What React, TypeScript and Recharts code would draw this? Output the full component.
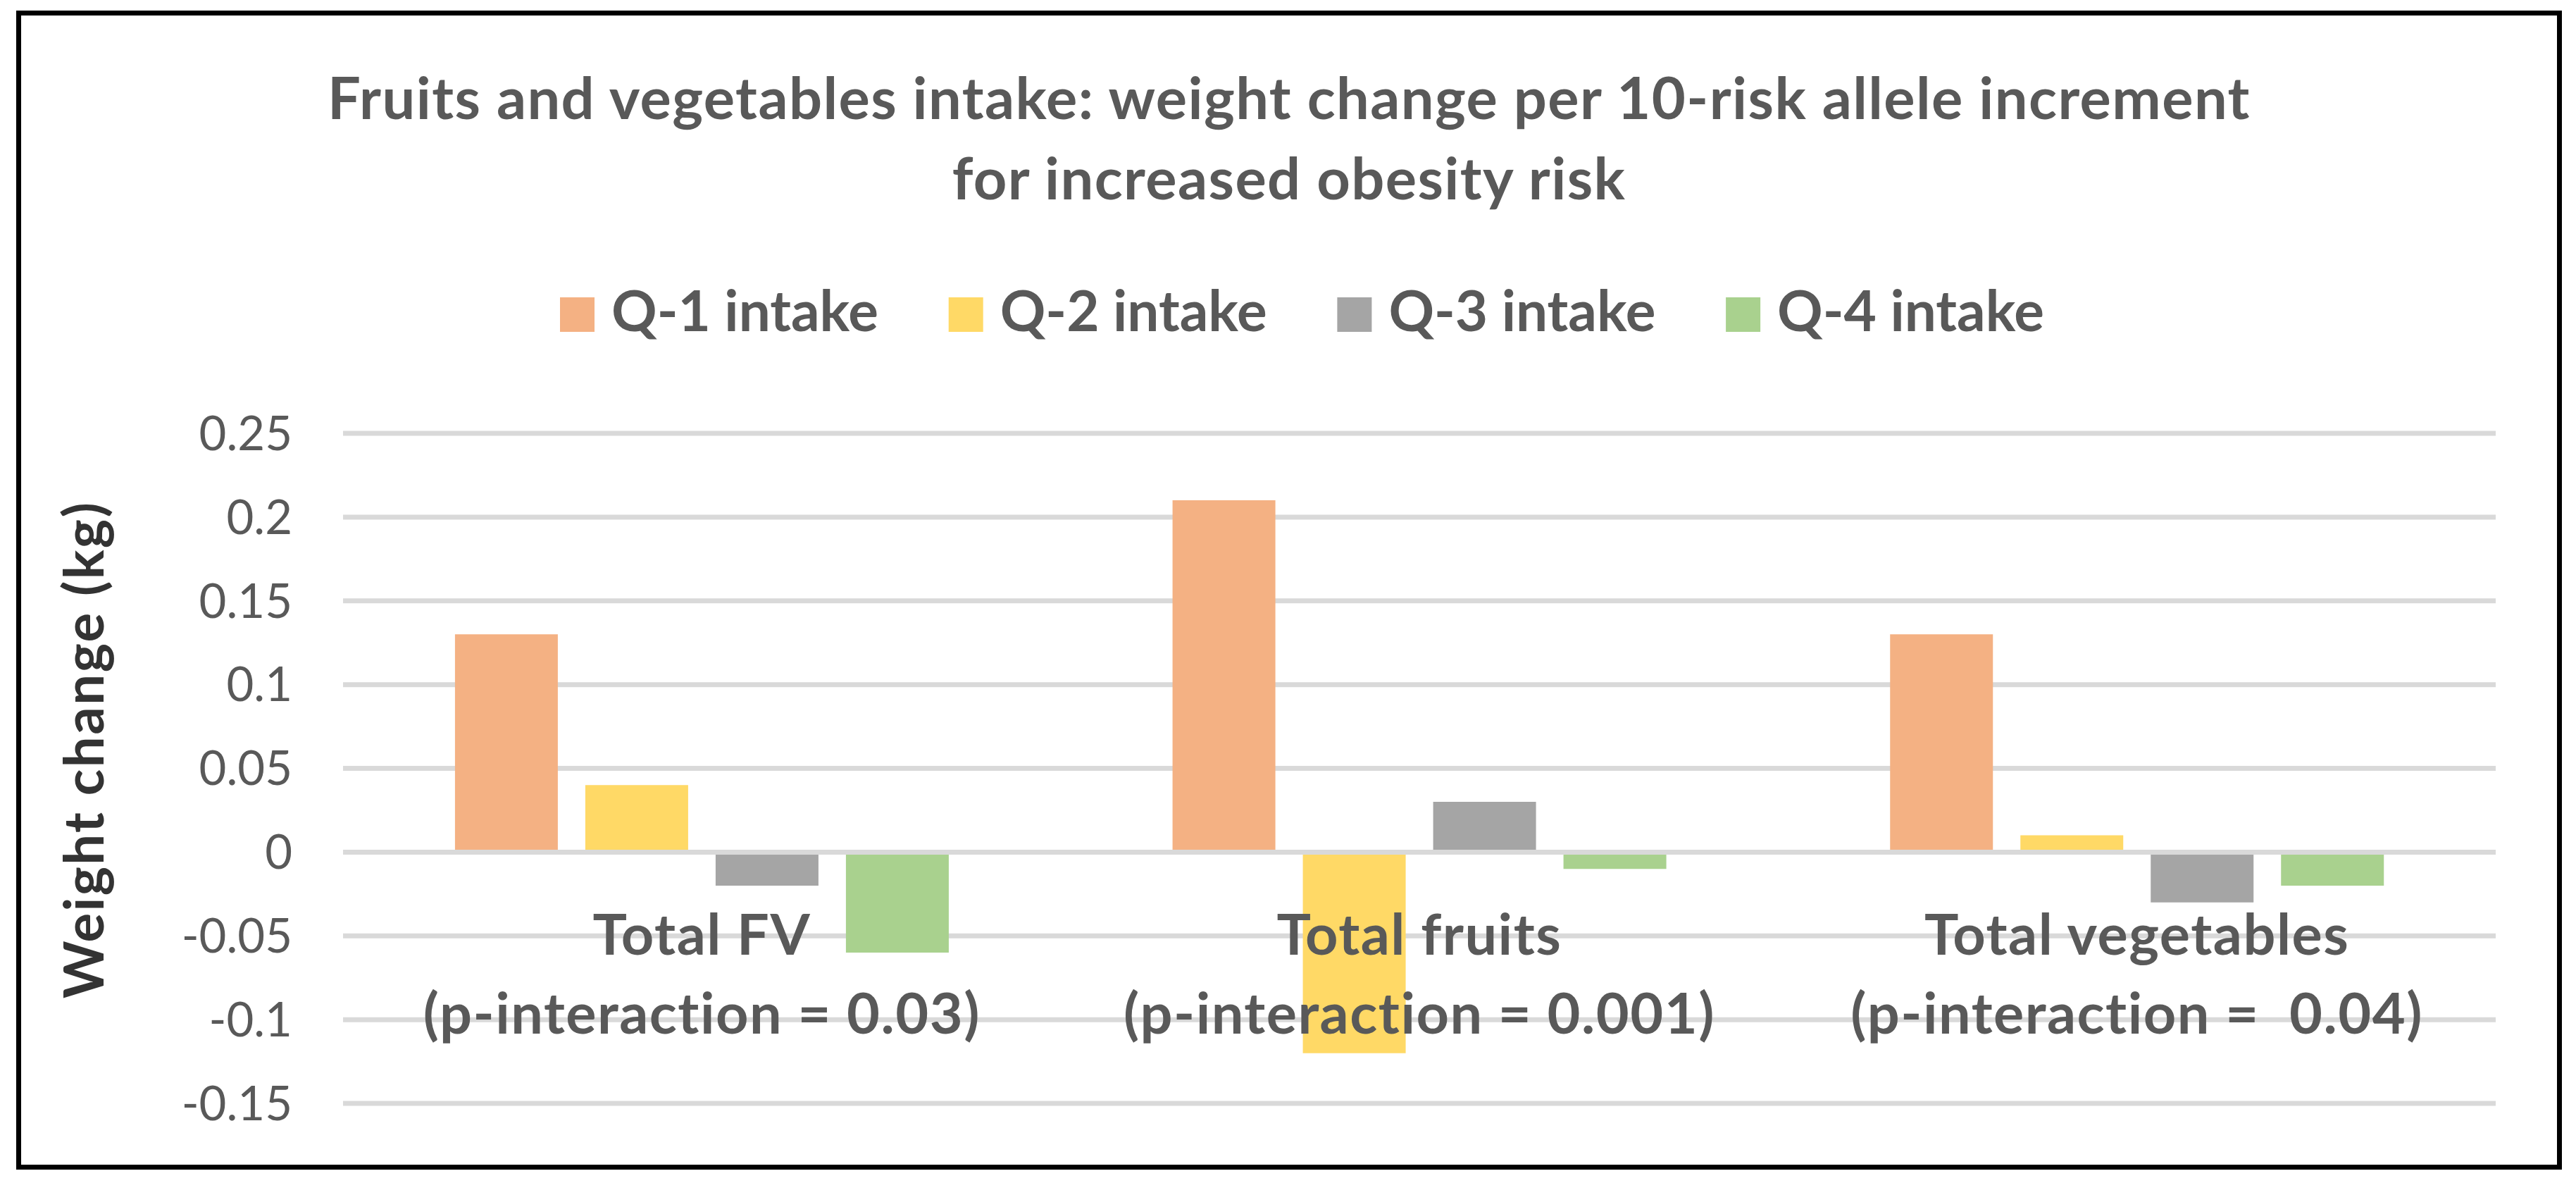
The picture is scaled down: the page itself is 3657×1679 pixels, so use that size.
import React from "react"
import { Bar, BarChart, CartesianGrid, Legend, ReferenceDot, ReferenceLine, XAxis, YAxis } from "recharts"

// values
const categories = ["Total FV", "Total fruits", "Total vegetables"]
const pInteraction = ["(p-interaction = 0.03)", "(p-interaction = 0.001)", "(p-interaction =  0.04)"]
const q1Intake = [0.13, 0.21, 0.13]
const q2Intake = [0.04, -0.12, 0.01]
const q3Intake = [-0.02, 0.03, -0.03]
const q4Intake = [-0.06, -0.01, -0.02]
const yTicks = [-0.15, -0.1, -0.05, 0, 0.05, 0.1, 0.15, 0.2, 0.25]

const data = categories.map((name, i) => ({
  name,
  p: pInteraction[i],
  q1: q1Intake[i],
  q2: q2Intake[i],
  q3: q3Intake[i],
  q4: q4Intake[i],
}))

const FONT = "Lato, 'Open Sans', sans-serif"
const GREY = "#595959"

const renderLegend = ({ payload }: any) => (
  <svg width={3657} height={110} style={{ display: "block" }}>
    {(payload || []).map((entry: any, i: number) => (
      <g key={entry.value}>
        <rect x={795 + i * 551.7} y={42} width={49} height={49} fill={entry.color} />
        <text x={868 + i * 551.7} y={90} fontFamily={FONT} fontWeight="bold" fontSize={80} fill={GREY}>
          {entry.value}
        </text>
      </g>
    ))}
  </svg>
)

const CategoryLabel = ({ cx, cy, index }: any) => (
  <g fontFamily={FONT} fontWeight="bold" fontSize={81} fill={GREY} letterSpacing={1.5}>
    <text x={cx} y={cy + 146} textAnchor="middle">
      {categories[index]}
    </text>
    <text x={cx} y={cy + 258} textAnchor="middle" style={{ whiteSpace: "pre" }}>
      {pInteraction[index]}
    </text>
  </g>
)

export default function App() {
  return (
    <div style={{ position: "absolute", left: 0, top: 0, width: 3657, height: 1679, background: "#fff" }}>
      <div
        style={{
          position: "absolute",
          left: 23,
          top: 15,
          width: 3614,
          height: 1645,
          boxSizing: "border-box",
          border: "7px solid #000",
        }}
      />
      <div style={{ position: "absolute", left: 0, top: 0 }}>
        <BarChart
          width={3657}
          height={1679}
          data={data}
          margin={{ top: 615, right: 114, bottom: 113, left: 87 }}
          barCategoryGap="15.6%"
          barGap={39}
        >
          <g fontFamily={FONT} fontWeight="bold" fontSize={83} fill={GREY} letterSpacing={1.4}>
            <text x={1830} y={169} textAnchor="middle">
              Fruits and vegetables intake: weight change per 10-risk allele increment
            </text>
            <text x={1830} y={283} textAnchor="middle">
              for increased obesity risk
            </text>
          </g>
          <text
            x={147}
            y={1064}
            transform="rotate(-90, 147, 1064)"
            textAnchor="middle"
            fontFamily={FONT}
            fontWeight="bold"
            fontSize={78}
            letterSpacing={2.4}
            fill="#333333"
          >
            Weight change (kg)
          </text>
          <CartesianGrid vertical={false} stroke="#d9d9d9" strokeWidth={7} />
          <XAxis dataKey="name" hide />
          <YAxis
            width={400}
            domain={[-0.15, 0.25]}
            ticks={yTicks}
            axisLine={false}
            tickLine={false}
            tickSize={0}
            tickMargin={72}
            tick={{ fontFamily: FONT, fontSize: 67, fill: GREY }}
          />
          <Legend
            layout="horizontal"
            verticalAlign="middle"
            align="center"
            content={renderLegend}
            wrapperStyle={{ top: 380, left: 0, width: 3657, height: 110 }}
          />
          <Bar dataKey="q1" name="Q-1 intake" fill="#F4B183" isAnimationActive={false} />
          <Bar dataKey="q2" name="Q-2 intake" fill="#FFD966" isAnimationActive={false} />
          <Bar dataKey="q3" name="Q-3 intake" fill="#A5A5A5" isAnimationActive={false} />
          <Bar dataKey="q4" name="Q-4 intake" fill="#A9D18E" isAnimationActive={false} />
          <ReferenceLine y={0} stroke="#d9d9d9" strokeWidth={7} />
          {categories.map((c, i) => (
            <ReferenceDot
              key={c}
              x={c}
              y={0}
              r={0}
              shape={(props: any) => <CategoryLabel {...props} index={i} />}
            />
          ))}
        </BarChart>
      </div>
    </div>
  )
}
